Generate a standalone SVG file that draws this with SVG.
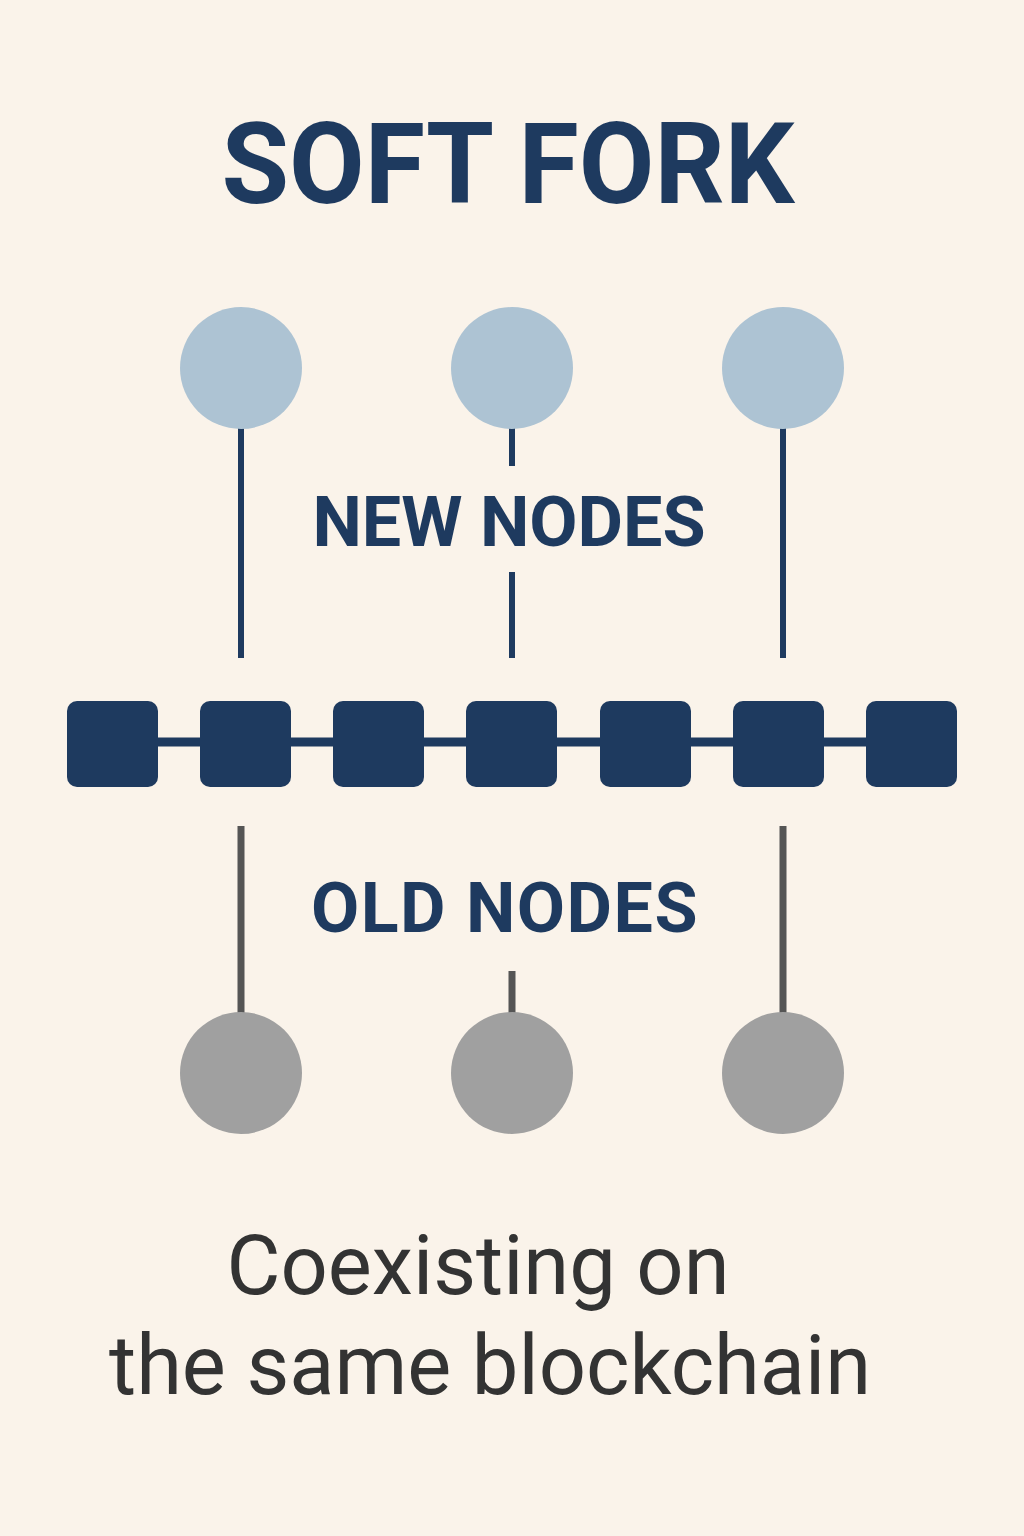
<svg xmlns="http://www.w3.org/2000/svg" width="1024" height="1536" viewBox="0 0 1024 1536">
<style>
.t{font-family:"Roboto","Liberation Sans",sans-serif;font-weight:bold;fill:#1e3a5f;text-anchor:middle}
.s{font-family:"Roboto","Liberation Sans",sans-serif;fill:#333;text-anchor:middle;font-size:83px}
.nn{fill:#adc3d3}.on{fill:#a0a0a0}
.blk{fill:#1e3a5f}
.ln{stroke:#1e3a5f;stroke-width:6}
.lo{stroke:#555;stroke-width:7}
</style>
<rect width="1024" height="1536" fill="#faf3ea"/>
<text class="t" x="508" y="203" font-size="114" textLength="573" lengthAdjust="spacingAndGlyphs">SOFT FORK</text>
<g id="connectors">
<line class="ln" x1="241" y1="428" x2="241" y2="658"/>
<line class="ln" x1="512" y1="428" x2="512" y2="466"/>
<line class="ln" x1="512" y1="572" x2="512" y2="658"/>
<line class="ln" x1="783" y1="428" x2="783" y2="658"/>
<line stroke="#1e3a5f" stroke-width="9" x1="110" y1="742" x2="910" y2="742"/>
<line class="lo" x1="241" y1="826" x2="241" y2="1013"/>
<line class="lo" x1="512" y1="971" x2="512" y2="1013"/>
<line class="lo" x1="783" y1="826" x2="783" y2="1013"/>
</g>
<g id="new-nodes">
<circle class="nn" cx="241" cy="368" r="61"/>
<circle class="nn" cx="512" cy="368" r="61"/>
<circle class="nn" cx="783" cy="368" r="61"/>
</g>
<text class="t" x="509" y="546" font-size="70">NEW NODES</text>
<g id="chain">
<rect class="blk" x="67" y="701" width="91" height="86" rx="10"/>
<rect class="blk" x="200" y="701" width="91" height="86" rx="10"/>
<rect class="blk" x="333" y="701" width="91" height="86" rx="10"/>
<rect class="blk" x="466" y="701" width="91" height="86" rx="10"/>
<rect class="blk" x="600" y="701" width="91" height="86" rx="10"/>
<rect class="blk" x="733" y="701" width="91" height="86" rx="10"/>
<rect class="blk" x="866" y="701" width="91" height="86" rx="10"/>
</g>
<text class="t" x="505" y="932" font-size="70" letter-spacing="1.5">OLD NODES</text>
<g id="old-nodes">
<circle class="on" cx="241" cy="1073" r="61"/>
<circle class="on" cx="512" cy="1073" r="61"/>
<circle class="on" cx="783" cy="1073" r="61"/>
</g>
<text class="s" x="478" y="1294">Coexisting on</text>
<text class="s" x="490" y="1394">the same blockchain</text>
</svg>
